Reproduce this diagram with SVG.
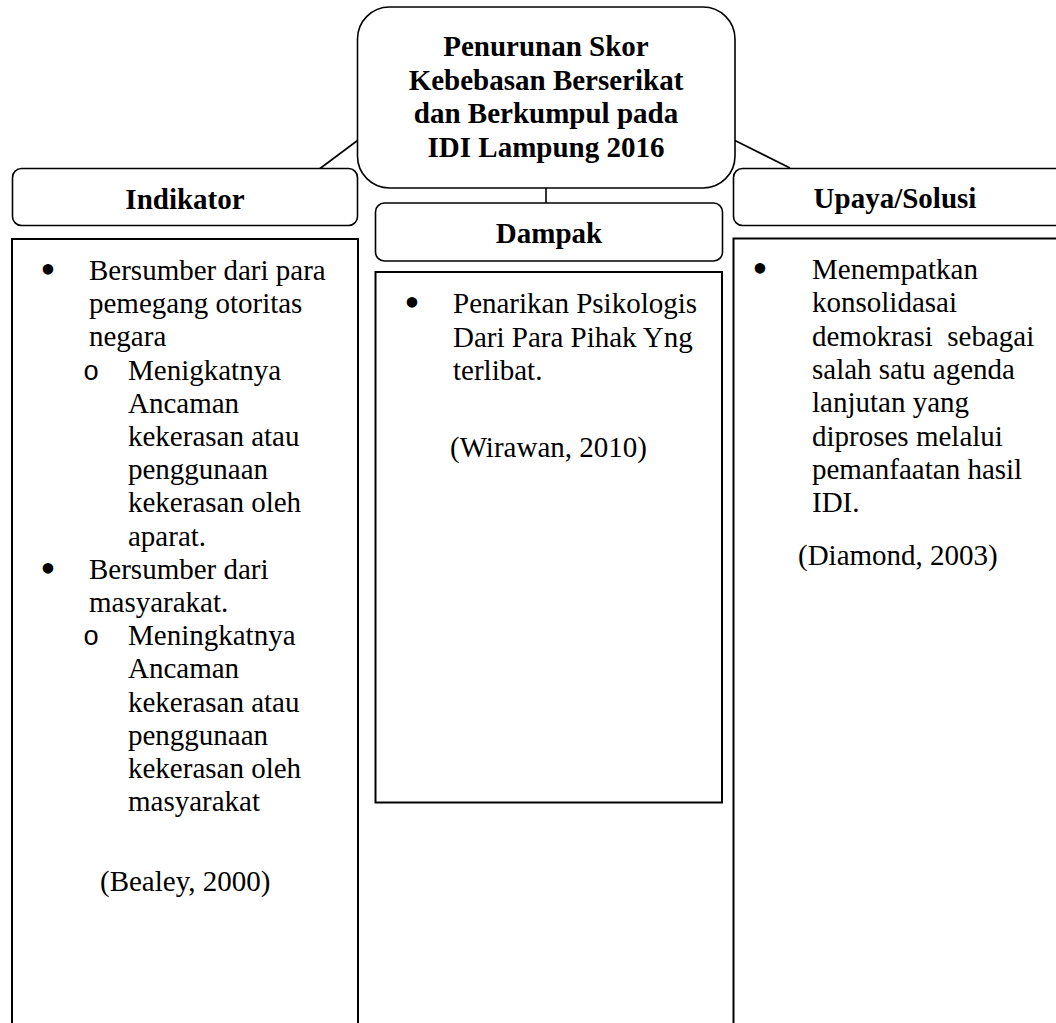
<svg xmlns="http://www.w3.org/2000/svg" width="1056" height="1023" viewBox="0 0 1056 1023">
<style>
.box{fill:#fff;stroke:#000;stroke-width:1.6}
.cbox{fill:#fff;stroke:#000;stroke-width:2}
.conn{stroke:#000;stroke-width:1.6;fill:none}
text{font-family:"Liberation Serif","Times New Roman",serif;font-size:29px;fill:#000}
.h{font-weight:bold;text-anchor:middle}
.b{font-size:44px;text-anchor:middle}
.o{font-family:"Liberation Mono","Courier New",monospace;font-size:27px;text-anchor:middle}
</style>
<rect width="1056" height="1023" fill="#fff"/>
<g id="connectors">
<line class="conn" x1="357.5" y1="140.5" x2="320" y2="168.5"/>
<line class="conn" x1="735" y1="140.5" x2="790" y2="168"/>
<line class="conn" x1="546" y1="188" x2="546" y2="203"/>
</g>
<g id="title">
<rect class="box" x="357.5" y="7" width="377.5" height="181" rx="32"/>
<text class="h" x="546" y="56">Penurunan Skor</text>
<text class="h" x="546" y="89.5">Kebebasan Berserikat</text>
<text class="h" x="546" y="123">dan Berkumpul pada</text>
<text class="h" x="546" y="156.5">IDI Lampung 2016</text>
</g>
<g id="indikator-header">
<rect class="box" x="12.5" y="168.5" width="345" height="57" rx="9"/>
<text class="h" x="185" y="209">Indikator</text>
</g>
<g id="indikator-content">
<path class="cbox" d="M12 1030 V239 H358 V1030"/>
<text class="b" x="48" y="284">•</text>
<text x="89" y="280">Bersumber dari para</text>
<text x="89" y="313.2">pemegang otoritas</text>
<text x="89" y="346.4">negara</text>
<text class="o" x="91" y="379.6">o</text>
<text x="128" y="379.6">Menigkatnya</text>
<text x="128" y="412.8">Ancaman</text>
<text x="128" y="446">kekerasan atau</text>
<text x="128" y="479.2">penggunaan</text>
<text x="128" y="512.4">kekerasan oleh</text>
<text x="128" y="545.6">aparat.</text>
<text class="b" x="48" y="582.8">•</text>
<text x="89" y="578.8">Bersumber dari</text>
<text x="89" y="612">masyarakat.</text>
<text class="o" x="91" y="645.2">o</text>
<text x="128" y="645.2">Meningkatnya</text>
<text x="128" y="678.4">Ancaman</text>
<text x="128" y="711.6">kekerasan atau</text>
<text x="128" y="744.8">penggunaan</text>
<text x="128" y="778">kekerasan oleh</text>
<text x="128" y="811.2">masyarakat</text>
<text x="100" y="891">(Bealey, 2000)</text>
</g>
<g id="dampak-header">
<rect class="box" x="375.5" y="203" width="347" height="58" rx="9"/>
<text class="h" x="549" y="243">Dampak</text>
</g>
<g id="dampak-content">
<rect class="cbox" x="375.5" y="272" width="346.5" height="530.5"/>
<text class="b" x="412" y="317">•</text>
<text x="453" y="313">Penarikan Psikologis</text>
<text x="453" y="346.5">Dari Para Pihak Yng</text>
<text x="453" y="380">terlibat.</text>
<text x="450" y="457">(Wirawan, 2010)</text>
</g>
<g id="upaya-header">
<rect class="box" x="733.5" y="168.5" width="340" height="57" rx="9"/>
<text class="h" x="895" y="208">Upaya/Solusi</text>
</g>
<g id="upaya-content">
<path class="cbox" d="M733.5 1030 V238.5 H1060"/>
<text class="b" x="760" y="283">•</text>
<text x="812" y="279">Menempatkan</text>
<text x="812" y="312.3">konsolidasai</text>
<text x="812" y="345.6" xml:space="preserve">demokrasi  sebagai</text>
<text x="812" y="378.9">salah satu agenda</text>
<text x="812" y="412.2">lanjutan yang</text>
<text x="812" y="445.5">diproses melalui</text>
<text x="812" y="478.8">pemanfaatan hasil</text>
<text x="812" y="512.1">IDI.</text>
<text x="798" y="565">(Diamond, 2003)</text>
</g>
</svg>
